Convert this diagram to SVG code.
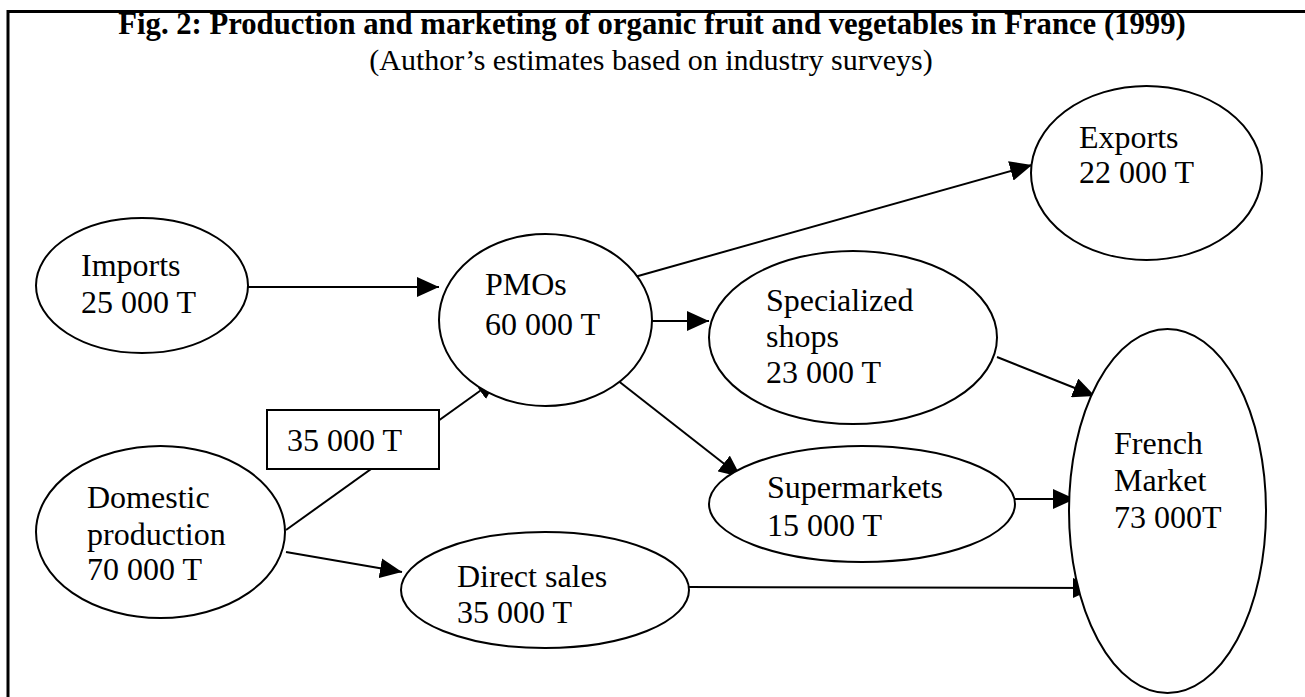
<svg xmlns="http://www.w3.org/2000/svg" width="1305" height="697" viewBox="0 0 1305 697">
<style>
.node ellipse, .node rect { fill: #fff; stroke: #000; stroke-width: 2; }
.node text { font-family: "Liberation Serif", "Times New Roman", serif; font-size: 32px; fill: #000; }
.title { font-family: "Liberation Serif", "Times New Roman", serif; font-size: 30.7px; font-weight: bold; fill: #000; }
.subtitle { font-family: "Liberation Serif", "Times New Roman", serif; font-size: 30px; fill: #000; }
#connectors line { stroke: #000; stroke-width: 2; fill: none; }
.arrow { marker-end: url(#ah); }
</style>
<defs>
<marker id="ah" markerUnits="userSpaceOnUse" markerWidth="22" markerHeight="20" refX="22" refY="10" orient="auto">
<path d="M0,0 L22,10 L0,20 Z" fill="#000"/>
</marker>
</defs>
<rect width="1305" height="697" fill="#fff"/>
<g id="frame" stroke="#000" stroke-width="3" fill="none">
<line x1="8" y1="11.5" x2="1305" y2="11.5"/>
<line x1="8" y1="10" x2="8" y2="697"/>
</g>
<text class="title" x="652" y="34" text-anchor="middle">Fig. 2: Production and marketing of organic fruit and vegetables in France (1999)</text>
<text class="subtitle" x="651" y="70" text-anchor="middle">(Author’s estimates based on industry surveys)</text>

<g id="connectors">
<line class="arrow" x1="248" y1="287" x2="439" y2="287"/>
<line class="arrow" x1="286" y1="530" x2="498" y2="378"/>
<line class="arrow" x1="286" y1="552" x2="402" y2="572"/>
<line class="arrow" x1="631" y1="278" x2="1032" y2="165"/>
<line class="arrow" x1="651" y1="321" x2="709" y2="321"/>
<line class="arrow" x1="612" y1="376" x2="741" y2="477"/>
<line class="arrow" x1="997" y1="357" x2="1095" y2="396"/>
<line class="arrow" x1="1015" y1="499" x2="1075" y2="499"/>
<line class="arrow" x1="689" y1="587" x2="1095" y2="588"/>
</g>

<g id="imports" class="node">
<ellipse cx="142" cy="285.5" rx="106" ry="67.5"/>
<text x="81" y="276">Imports</text>
<text x="81" y="313">25 000 T</text>
</g>
<g id="domestic" class="node">
<ellipse cx="160.5" cy="532" rx="124.5" ry="86"/>
<text x="87" y="508">Domestic</text>
<text x="87" y="545">production</text>
<text x="87" y="580">70 000 T</text>
</g>
<g id="label-35000" class="node">
<rect x="267" y="410" width="172" height="59"/>
<text x="287" y="451">35 000 T</text>
</g>
<g id="pmos" class="node">
<ellipse cx="545.5" cy="320" rx="106.5" ry="86"/>
<text x="485" y="295">PMOs</text>
<text x="485" y="335">60 000 T</text>
</g>
<g id="exports" class="node">
<ellipse cx="1146.5" cy="173" rx="115.5" ry="87"/>
<text x="1079" y="148">Exports</text>
<text x="1079" y="183">22 000 T</text>
</g>
<g id="specialized" class="node">
<ellipse cx="853" cy="337.5" rx="144" ry="86.5"/>
<text x="766" y="311">Specialized</text>
<text x="766" y="347">shops</text>
<text x="766" y="383">23 000 T</text>
</g>
<g id="supermarkets" class="node">
<ellipse cx="862" cy="504" rx="153" ry="58"/>
<text x="767" y="498">Supermarkets</text>
<text x="767" y="536">15 000 T</text>
</g>
<g id="direct-sales" class="node">
<ellipse cx="545" cy="590" rx="144" ry="58"/>
<text x="457" y="587">Direct sales</text>
<text x="457" y="623">35 000 T</text>
</g>
<g id="french-market" class="node">
<ellipse cx="1167.5" cy="511" rx="98.5" ry="182"/>
<text x="1114" y="454">French</text>
<text x="1114" y="491">Market</text>
<text x="1114" y="528">73 000T</text>
</g>
</svg>
